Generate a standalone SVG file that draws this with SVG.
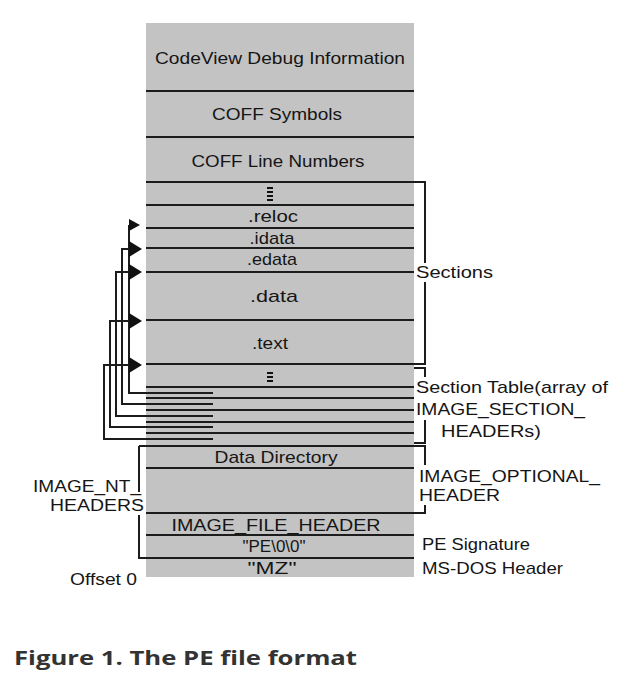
<svg xmlns="http://www.w3.org/2000/svg" width="639" height="681" viewBox="0 0 639 681">
<style>
.cell{fill:#c3c3c3}
.t{font-family:"Liberation Sans",Arial,sans-serif;font-size:17px;fill:#151515}
.s{font-size:16px}
.m{text-anchor:middle}
.ln{stroke:#1c1c1c;stroke-width:2;fill:none}
.cap{font-family:"Open Sans","Liberation Sans",sans-serif;font-size:19px;font-weight:bold;fill:#333}
</style>
<defs>
<polygon id="ah" points="0,-8 13,0 0,8" fill="#111"/>
</defs>
<rect width="639" height="681" fill="#fff"/>
<g id="codeview"><rect class="cell" x="146" y="23" width="268" height="68"/><text class="t m" x="280" y="64" textLength="250" lengthAdjust="spacingAndGlyphs">CodeView Debug Information</text></g>
<g id="coff-symbols"><rect class="cell" x="146" y="91" width="268" height="46"/><text class="t m" x="277" y="120" textLength="130" lengthAdjust="spacingAndGlyphs">COFF Symbols</text></g>
<g id="coff-line"><rect class="cell" x="146" y="137" width="268" height="45"/><text class="t m" x="278" y="167" textLength="173" lengthAdjust="spacingAndGlyphs">COFF Line Numbers</text></g>
<g id="more-sections"><rect class="cell" x="146" y="182" width="268" height="23"/><rect x="267" y="187" width="6" height="2" fill="#111"/><rect x="267" y="191" width="6" height="2" fill="#111"/><rect x="267" y="195" width="6" height="2" fill="#111"/><rect x="267" y="199" width="6" height="2" fill="#111"/></g>
<g id="reloc"><rect class="cell" x="146" y="205" width="268" height="23"/><text class="t m" x="273" y="222" textLength="50" lengthAdjust="spacingAndGlyphs">.reloc</text></g>
<g id="idata"><rect class="cell" x="146" y="228" width="268" height="20"/><text class="t m" x="272" y="244" textLength="45" lengthAdjust="spacingAndGlyphs">.idata</text></g>
<g id="edata"><rect class="cell" x="146" y="248" width="268" height="24"/><text class="t m" x="272" y="265" textLength="50" lengthAdjust="spacingAndGlyphs">.edata</text></g>
<g id="data"><rect class="cell" x="146" y="272" width="268" height="48"/><text class="t m" x="274" y="302" textLength="48" lengthAdjust="spacingAndGlyphs">.data</text></g>
<g id="text"><rect class="cell" x="146" y="320" width="268" height="44"/><text class="t m" x="270" y="349" textLength="36" lengthAdjust="spacingAndGlyphs">.text</text></g>
<g id="section-table"><rect class="cell" x="146" y="364" width="268" height="82"/><rect x="267" y="372" width="6" height="2" fill="#111"/><rect x="267" y="376" width="6" height="2" fill="#111"/><rect x="267" y="380" width="6" height="2" fill="#111"/></g>
<g id="data-directory"><rect class="cell" x="146" y="446" width="268" height="22"/><text class="t m" x="276" y="463" textLength="123" lengthAdjust="spacingAndGlyphs">Data Directory</text></g>
<g id="optional-header"><rect class="cell" x="146" y="468" width="268" height="45"/></g>
<g id="file-header"><rect class="cell" x="146" y="513" width="268" height="22"/><text class="t m" x="276" y="531" textLength="209" lengthAdjust="spacingAndGlyphs">IMAGE_FILE_HEADER</text></g>
<g id="pe-signature"><rect class="cell" x="146" y="535" width="268" height="22"/><text class="t m" x="274" y="552" textLength="63" lengthAdjust="spacingAndGlyphs">"PE\0\0"</text></g>
<g id="mz"><rect class="cell" x="146" y="557" width="268" height="20"/><text class="t m" x="272" y="574" textLength="49" lengthAdjust="spacingAndGlyphs">"MZ"</text></g>
<g id="dividers" class="ln">
<path d="M146 91H414M146 137H414M146 205H414M146 228H414M146 248H414M146 272H414M146 320H414M146 468H414M146 535H414"/>
<path d="M146 387H414M146 398H414M146 410H414M146 422H414M146 433H414"/>
</g>
<g id="labels">
<text class="t" x="416" y="278" textLength="77" lengthAdjust="spacingAndGlyphs">Sections</text>
<text class="t" x="416" y="393" textLength="192" lengthAdjust="spacingAndGlyphs">Section Table(array of</text>
<text class="t" x="416" y="415" textLength="169" lengthAdjust="spacingAndGlyphs">IMAGE_SECTION_</text>
<text class="t" x="441" y="437" textLength="100" lengthAdjust="spacingAndGlyphs">HEADERs)</text>
<text class="t s" x="419" y="482" textLength="181" lengthAdjust="spacingAndGlyphs">IMAGE_OPTIONAL_</text>
<text class="t s" x="419" y="501" textLength="81" lengthAdjust="spacingAndGlyphs">HEADER</text>
<text class="t" x="422" y="550" textLength="108" lengthAdjust="spacingAndGlyphs">PE Signature</text>
<text class="t" x="422" y="574" textLength="141" lengthAdjust="spacingAndGlyphs">MS-DOS Header</text>
<text class="t s" x="33" y="492" textLength="108" lengthAdjust="spacingAndGlyphs">IMAGE_NT_</text>
<text class="t s" x="50" y="511" textLength="94" lengthAdjust="spacingAndGlyphs">HEADERS</text>
<text class="t" x="70" y="585" textLength="67" lengthAdjust="spacingAndGlyphs">Offset 0</text>
</g>
<g id="connectors" class="ln">
<path d="M146 182H425V263M425 282V364H146M414 368H425V377M425 420V443H414M139 446H425V465M425 505V513H146"/>
<path d="M139 492V446M139 515V558H414"/>
<path d="M213 393H129V225"/>
<path d="M213 404H122V249H131"/>
<path d="M213 416H116V272H131"/>
<path d="M213 427H110V321H131"/>
<path d="M213 439H104V365H131"/>
</g>
<g id="arrowheads">
<polygon points="129,219 140,225 129,231" fill="#111"/>
<use href="#ah" x="129" y="249"/>
<use href="#ah" x="129" y="272"/>
<use href="#ah" x="129" y="321"/>
<use href="#ah" x="129" y="365"/>
</g>
<text class="cap" x="14" y="665" textLength="343" lengthAdjust="spacingAndGlyphs">Figure 1. The PE file format</text>
</svg>
